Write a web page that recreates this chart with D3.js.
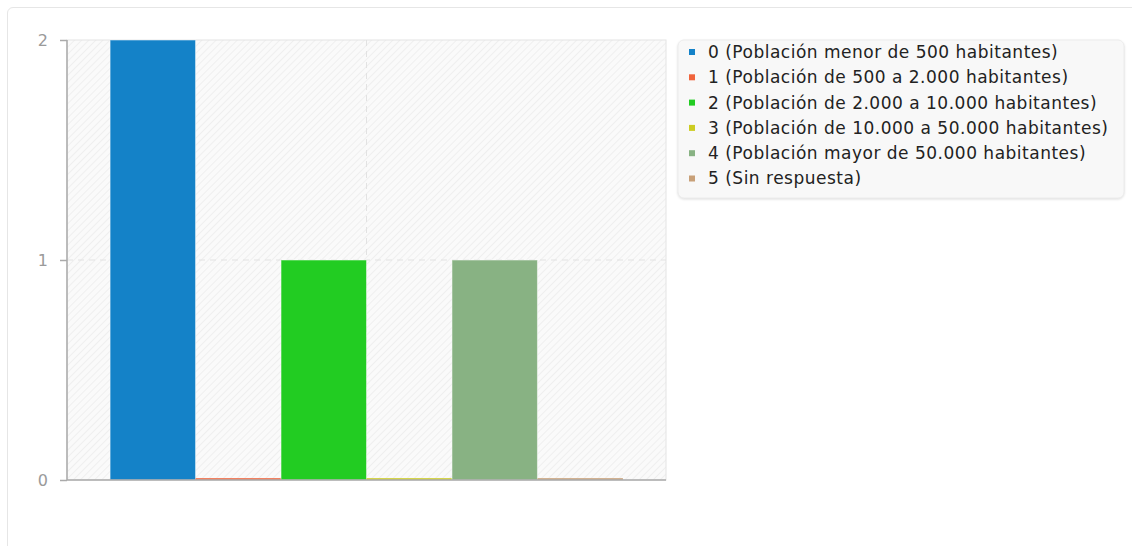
<!DOCTYPE html>
<html>
<head>
<meta charset="utf-8">
<script src="https://cdn.jsdelivr.net/npm/d3@7"></script>
<style>
  body { margin: 0; background: #fff; font-family: "DejaVu Sans", sans-serif; }
  .card {
    position: absolute; left: 7px; top: 7px; width: 1140px; height: 560px;
    border: 1px solid #e6e6e6; border-radius: 6px; box-sizing: border-box;
  }
  svg { position: absolute; left: 0; top: 0; }
  text { font-family: "DejaVu Sans", sans-serif; }
</style>
</head>
<body>
<div class="card"></div>
<div id="chart"></div>
<script>
// series names and values (one group, six series)
var seriesLabels = [
  "0 (Población menor de 500 habitantes)",
  "1 (Población de 500 a 2.000 habitantes)",
  "2 (Población de 2.000 a 10.000 habitantes)",
  "3 (Población de 10.000 a 50.000 habitantes)",
  "4 (Población mayor de 50.000 habitantes)",
  "5 (Sin respuesta)"
];
var seriesValues = [2, 0, 1, 0, 1, 0];
var seriesColors = ["#1482c8", "#f0643c", "#22cc22", "#cccc22", "#88b283", "#c8a078"];
var yTicks = [0, 1, 2];

var margin = {top: 40, right: 466, bottom: 66, left: 67},
    width = 1132 - margin.left - margin.right,
    height = 546 - margin.top - margin.bottom;

var svg = d3.select("#chart")
    .append("svg")
    .attr("width", 1132)
    .attr("height", 546);

// hatch pattern for the plot background
var defs = svg.append("defs");
var pat = defs.append("pattern")
    .attr("id", "hatch")
    .attr("patternUnits", "userSpaceOnUse")
    .attr("width", 5)
    .attr("height", 5)
    .attr("patternTransform", "rotate(45)");
pat.append("rect").attr("width", 5).attr("height", 5).attr("fill", "#fafafa");
pat.append("line")
    .attr("x1", 0).attr("y1", 0).attr("x2", 0).attr("y2", 5)
    .attr("stroke", "#ececec").attr("stroke-width", 1.5);

var g = svg.append("g")
    .attr("transform", "translate(" + margin.left + "," + margin.top + ")");

var x0 = d3.scaleBand()
    .domain([""])
    .range([0, width])
    .paddingOuter(0.084);
var x1 = d3.scaleBand()
    .domain(d3.range(seriesValues.length))
    .range([0, x0.bandwidth()]);
var y = d3.scaleLinear()
    .domain([0, 2])
    .range([height, 0]);

g.append("rect")
    .attr("width", width)
    .attr("height", height)
    .attr("fill", "url(#hatch)")
    .attr("stroke", "#e4e4e4")
    .attr("stroke-width", 1);

// grid
g.selectAll(".hgrid")
    .data([1])
    .enter()
    .append("line")
    .attr("x1", 0).attr("x2", width)
    .attr("y1", function(d) { return y(d); })
    .attr("y2", function(d) { return y(d); })
    .attr("stroke", "#e2e2e2")
    .attr("stroke-dasharray", "6,5");
g.append("line")
    .attr("x1", width / 2).attr("x2", width / 2)
    .attr("y1", 0).attr("y2", height)
    .attr("stroke", "#e2e2e2")
    .attr("stroke-dasharray", "6,5");

// bars (zero values still show as a thin strip)
g.selectAll(".bar")
    .data(seriesValues)
    .enter()
    .append("rect")
    .attr("x", function(d, i) { return x0("") + x1(i); })
    .attr("y", function(d) { return Math.min(y(d), height - 2); })
    .attr("width", x1.bandwidth())
    .attr("height", function(d) { return Math.max(height - y(d), 2); })
    .attr("fill", function(d, i) { return seriesColors[i]; })
    .attr("fill-opacity", function(d) { return d > 0 ? 1 : 0.8; })
    .attr("stroke", function(d) { return d > 0 ? "#fff" : "none"; })
    .attr("stroke-opacity", 0.5)
    .attr("stroke-width", 1);

// axes
var yAxis = g.append("g")
    .call(d3.axisLeft(y).tickValues(yTicks).tickFormat(d3.format("d")).tickSize(7).tickPadding(12));
yAxis.select(".domain").attr("stroke", "#aaa").attr("stroke-width", 1.5).attr("d", "M0,0V" + height);
yAxis.selectAll(".tick line").attr("stroke", "#aaa").attr("stroke-width", 1.5);
yAxis.selectAll(".tick text")
    .attr("fill", "#9a9a9a")
    .style("font-size", "16px")
    .style("font-family", "'DejaVu Sans', sans-serif");

g.append("line")
    .attr("x1", 0).attr("x2", width)
    .attr("y1", height).attr("y2", height)
    .attr("stroke", "#aaa")
    .attr("stroke-width", 1.5);

// legend
var lg = svg.append("g").attr("transform", "translate(678,40)");
lg.append("rect")
    .attr("width", 446)
    .attr("height", 158)
    .attr("rx", 6)
    .attr("fill", "#f8f8f8")
    .attr("stroke", "#ececec")
    .style("filter", "drop-shadow(0px 1px 1px rgba(0,0,0,0.12))");
var items = lg.selectAll(".item")
    .data(seriesLabels)
    .enter()
    .append("g")
    .attr("transform", function(d, i) { return "translate(0," + (12 + i * 25.3) + ")"; });
items.append("rect")
    .attr("x", 11).attr("y", -3)
    .attr("width", 6).attr("height", 6)
    .attr("fill", function(d, i) { return seriesColors[i]; });
items.append("text")
    .attr("x", 30)
    .attr("dy", "0.35em")
    .attr("fill", "#222")
    .style("font-size", "17px")
    .style("letter-spacing", "0.5px")
    .style("font-family", "'DejaVu Sans', sans-serif")
    .text(function(d) { return d; });
</script>
</body>
</html>
